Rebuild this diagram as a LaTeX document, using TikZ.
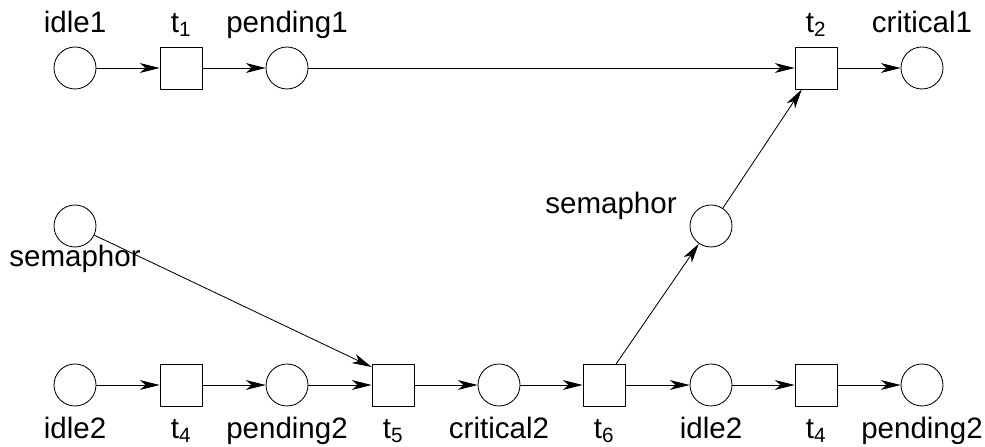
\documentclass[tikz,border=0pt]{standalone}
\usepackage{fontspec}
\setmainfont{Liberation Sans}
\usetikzlibrary{arrows.meta}

\begin{document}
\begin{tikzpicture}[x=1cm,y=1cm,line cap=round,line join=round,
	place/.style={circle,draw,line width=0.6pt,minimum size=1.05cm,inner sep=0pt},
	trans/.style={rectangle,draw,line width=0.6pt,minimum size=1.05cm,inner sep=0pt},
	arc/.style={line width=0.6pt,-{Stealth[length=14pt,width=7pt,inset=4pt]}},
	lab/.style={font=\fontsize{21}{24}\selectfont,inner sep=0pt,text height=15.5pt,text depth=5.5pt},
	every label/.style={lab},label distance=4.5pt]
	\useasboundingbox (0,0) rectangle (24.625,11.175);
	% process 1
	\node[place,label=above:idle1] (idle1) at (1.875,9.475) {};
	\node[trans,label=above:t\textsubscript{1}] (t1) at (4.525,9.475) {};
	\node[place,label=above:pending1] (pend1) at (7.175,9.475) {};
	\node[trans,label=above:t\textsubscript{2}] (t2) at (20.4,9.475) {};
	\node[place,label=above:critical1] (crit1) at (23.05,9.475) {};
	% semaphores
	\node[place,label={[label distance=-2pt]below:semaphor}] (sem1) at (1.875,5.525) {};
	\node[place,label={[label distance=9pt,yshift=14pt]left:semaphor}] (sem2) at (17.775,5.525) {};
	% process 2
	\node[place,label={[label distance=7.2pt]below:idle2}] (idle2) at (1.875,1.55) {};
	\node[trans,label={[label distance=7.2pt]below:t\textsubscript{4}}] (t4) at (4.525,1.55) {};
	\node[place,label={[label distance=7.2pt]below:pending2}] (pend2) at (7.175,1.55) {};
	\node[trans,label={[label distance=7.2pt]below:t\textsubscript{5}}] (t5) at (9.825,1.55) {};
	\node[place,label={[label distance=7.2pt]below:critical2}] (crit2) at (12.475,1.55) {};
	\node[trans,label={[label distance=7.2pt]below:t\textsubscript{6}}] (t6) at (15.1,1.55) {};
	\node[place,label={[label distance=7.2pt]below:idle2}] (idle2b) at (17.775,1.55) {};
	\node[trans,label={[label distance=7.2pt]below:t\textsubscript{4}}] (t4b) at (20.4,1.55) {};
	\node[place,label={[label distance=7.2pt]below:pending2}] (pend2b) at (23.05,1.55) {};
	% arcs
	\draw[arc] (idle1) -- (t1);
	\draw[arc] (t1) -- (pend1);
	\draw[arc] (pend1) -- (t2);
	\draw[arc] (t2) -- (crit1);
	\draw[arc] (idle2) -- (t4);
	\draw[arc] (t4) -- (pend2);
	\draw[arc] (pend2) -- (t5);
	\draw[arc] (t5) -- (crit2);
	\draw[arc] (crit2) -- (t6);
	\draw[arc] (t6) -- (idle2b);
	\draw[arc] (idle2b) -- (t4b);
	\draw[arc] (t4b) -- (pend2b);
	\draw[arc] (sem1) -- (t5.140);
	\draw[arc] (t6.60) -- (sem2);
	\draw[arc] (sem2) -- (t2);
\end{tikzpicture}
\end{document}
